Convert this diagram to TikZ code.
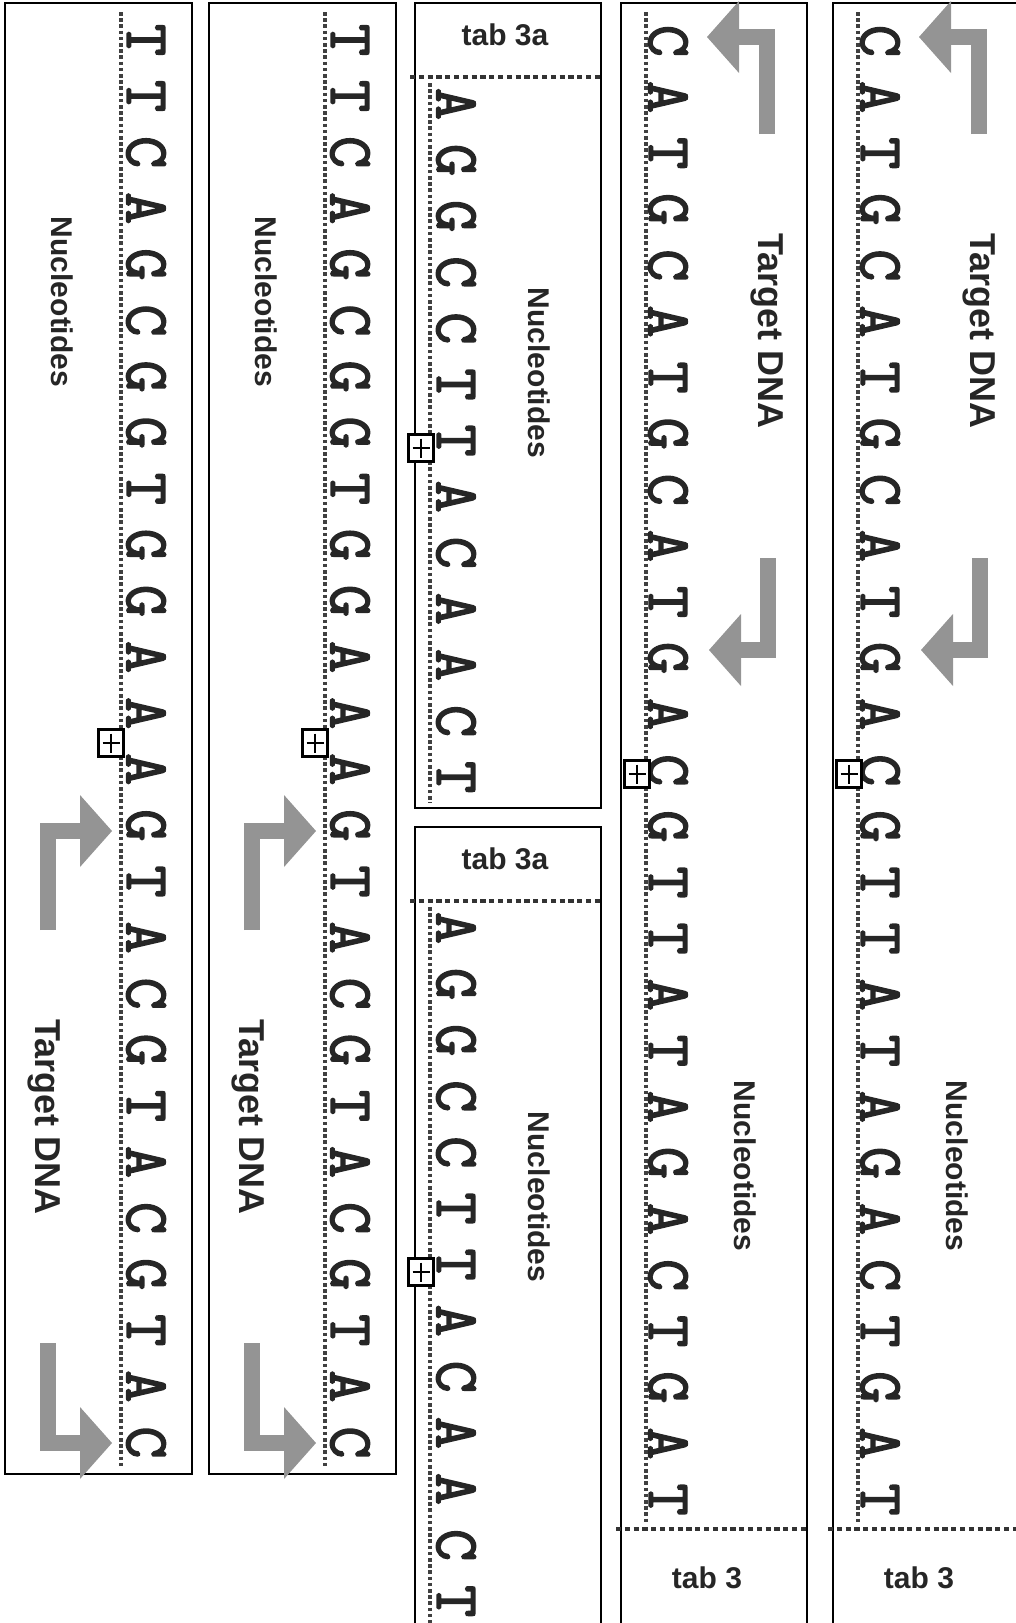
\documentclass[tikz,border=0pt]{standalone}
\usepackage{xcolor}
\usepackage{fontspec}
\setsansfont{Liberation Sans}
\newfontfamily\ntfont{Latin Modern Mono}[FakeBold=2.5]
\usepackage{tikz}
\usetikzlibrary{arrows.meta}

\begin{document}
\begin{tikzpicture}[
    x=0.5pt, y=-0.5pt,
    boxline/.style={draw, line width=1.3pt},
    strand/.style={draw=black!75, line width=2.2pt, dash pattern=on 1.8pt off 1.3pt},
    sepline/.style={draw=black!80, line width=1.7pt, dash pattern=on 2.6pt off 1.8pt},
    nt/.style={rotate=-90, inner sep=0pt, text=black!85,
      font=\fontsize{31}{31}\selectfont\ntfont},
    cutsite/.style={draw, fill=white, line width=1.1pt, minimum width=12.5pt,
      minimum height=13.5pt, inner sep=0pt,
      path picture={\draw[line width=0.9pt]
        ([xshift=2pt]path picture bounding box.west) -- ([xshift=-2pt]path picture bounding box.east)
        ([yshift=-2pt]path picture bounding box.north) -- ([yshift=2pt]path picture bounding box.south);}},
    lbl/.style={rotate=-90, text=black!85, font=\fontsize{15}{15}\selectfont\sffamily\bfseries},
    lblbig/.style={rotate=-90, text=black!85, font=\fontsize{18}{18}\selectfont\sffamily\bfseries},
    tablbl/.style={text=black!85, font=\fontsize{15}{15}\selectfont\sffamily\bfseries},
    bent/.style={draw=black!42, line width=8pt,
      -{Triangle[length=16pt, width=36pt, line width=0pt]}}
  ]
    \path[use as bounding box, clip] (0,0) rectangle (1016,1623);

    % Strips 1 and 2: target DNA at the bottom
    \foreach \ox/\col in {0/a, 204/b} {
      \draw[boxline] ({5+\ox},3) rectangle ({192+\ox},1474);
      \draw[strand] ({121+\ox},12) -- ({121+\ox},1468);
      \foreach \nuc [count=\i] in {T,T,C,A,G,C,G,G,T,G,G,A,A,A,G,T,A,C,G,T,A,C,G,T,A,C}
        \node[nt] (\col\i) at ({146+\ox},{40+56.1*(\i-1)}) {\nuc};
      \node[cutsite] (cut\col) at ({111+\ox},743) {};
      \node[lbl] (nuc\col) at ({62+\ox},302) {Nucleotides};
      \node[lblbig] (tgt\col) at ({44+\ox},1117) {Target DNA};
      \draw[bent] ({48+\ox},930) |- ({112+\ox},831);
      \draw[bent] ({48+\ox},1343) |- ({112+\ox},1443);
    }

    % Strip 3: two short pieces, tab 3a
    \foreach \oy/\col in {0/c, 824/d} {
      \draw[boxline] (415,{3+\oy}) rectangle (601,{808+\oy});
      \draw[sepline] (410,{77+\oy}) -- (601,{77+\oy});
      \node[tablbl] (tab\col) at (505,{35+\oy}) {tab 3a};
      \draw[strand] (430,{83+\oy}) -- (430,{803+\oy});
      \foreach \nuc [count=\i] in {A,G,G,C,C,T,T,A,C,A,A,C,T}
        \node[nt] (\col\i) at (456,{104+56.1*(\i-1)+\oy}) {\nuc};
      \node[cutsite] (cut\col) at (421,{448+\oy}) {};
      \node[lbl] (nuc\col) at (539,{373+\oy}) {Nucleotides};
    }

    % Strips 4 and 5: target DNA at the top, tab 3
    \foreach \ox/\col in {0/e, 212/f} {
      \draw[boxline] ({621+\ox},3) rectangle ({807+\ox},1640);
      \draw[strand] ({646+\ox},12) -- ({646+\ox},1524);
      \draw[sepline] ({616+\ox},1529) -- ({807+\ox},1529);
      \node[tablbl] (tab\col) at ({707+\ox},1578) {tab 3};
      \foreach \nuc [count=\i] in {C,A,T,G,C,A,T,G,C,A,T,G,A,C,G,T,T,A,T,A,G,A,C,T,G,A,T}
        \node[nt] (\col\i) at ({668+\ox},{41+56.1*(\i-1)}) {\nuc};
      \node[cutsite] (cut\col) at ({637+\ox},774) {};
      \node[lblbig] (tgt\col) at ({767+\ox},331) {Target DNA};
      \node[lbl] (nuc\col) at ({745+\ox},1166) {Nucleotides};
      \draw[bent] ({767+\ox},134) |- ({707+\ox},37);
      \draw[bent] ({768+\ox},558) |- ({709+\ox},650);
    }
  \end{tikzpicture}
\end{document}
